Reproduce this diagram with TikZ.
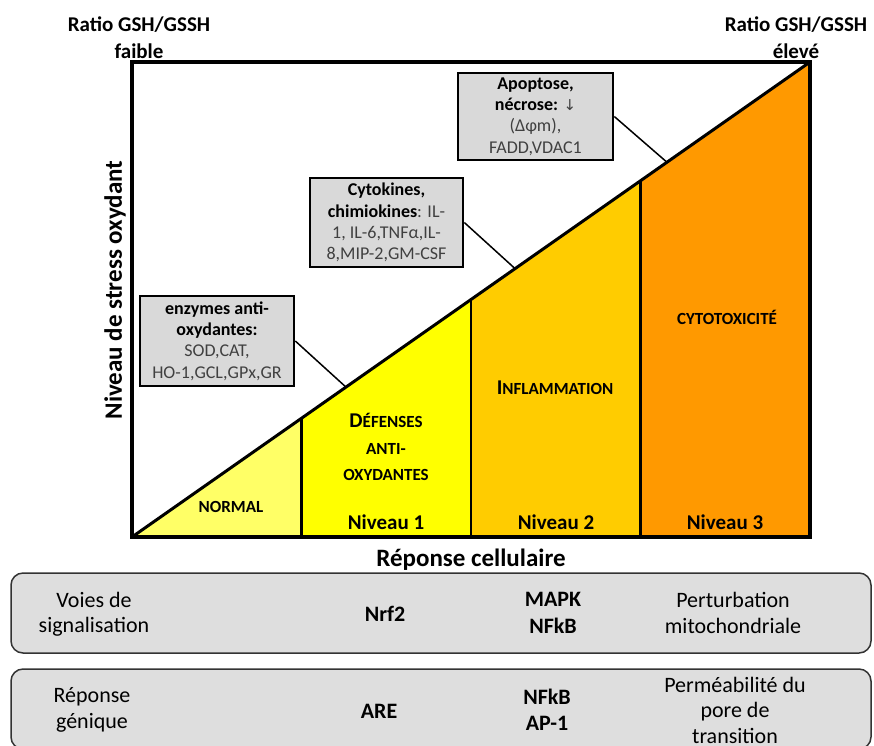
\documentclass[tikz,border=0pt]{standalone}
\usepackage{fontspec}
\setmainfont{Carlito}
\newfontfamily\djv{DejaVu Sans}
\usetikzlibrary{calc}
\definecolor{cNormal}{HTML}{FFFF66}
\definecolor{cDef}{HTML}{FFFF00}
\definecolor{cInf}{HTML}{FFCC00}
\definecolor{cCyt}{HTML}{FF9900}
\definecolor{annotgray}{HTML}{D9D9D9}
\definecolor{rowgray}{HTML}{DEDEDE}
\definecolor{txtgray}{HTML}{404040}
\newcommand{\sz}[2]{\fontsize{#1pt}{#2pt}\selectfont}
\tikzset{
  annot/.style={draw, line width=2.6, fill=annotgray, align=center, inner sep=1,
    font=\sz{18}{21.3}},
  link/.style={line width=1.5},
  divider/.style={line width=2.2},
  regionlab/.style={align=center, inner sep=0, font=\bfseries\sz{17}{26.5}},
  levellab/.style={inner sep=0, font=\bfseries\sz{21}{25}},
  axislab/.style={inner sep=0, font=\bfseries\sz{25}{30}},
  ratiolab/.style={align=center, inner sep=0, font=\bfseries\sz{21}{27}},
  rowbox/.style={draw=black!80, line width=1.5, fill=rowgray, rounded corners=12,
    minimum width=860, minimum height=80, inner sep=0},
  rowtxt/.style={align=center, inner sep=0, font=\sz{22}{25.5}},
  rowbold/.style={rowtxt, font=\bfseries\sz{22}{26.5}}
}
\begin{document}
\begin{tikzpicture}[x=1pt,y=-1pt]
\useasboundingbox (0,0) rectangle (874,745);
% frame corners
\coordinate (TL) at (132,62);
\coordinate (TR) at (810,62);
\coordinate (BL) at (132,537);
\coordinate (BR) at (810,537);
\coordinate (B1) at ($(BL)!0.25!(BR)$);
\coordinate (B2) at ($(BL)!0.5!(BR)$);
\coordinate (B3) at ($(BL)!0.75!(BR)$);
\coordinate (H1) at ($(BL)!0.25!(TR)$);
\coordinate (H2) at ($(BL)!0.5!(TR)$);
\coordinate (H3) at ($(BL)!0.75!(TR)$);
% regions
\fill[cNormal] (BL) -- (B1) -- (H1) -- cycle;
\fill[cDef] (B1) -- (B2) -- (H2) -- (H1) -- cycle;
\fill[cInf] (B2) -- (B3) -- (H3) -- (H2) -- cycle;
\fill[cCyt] (B3) -- (BR) -- (TR) -- (H3) -- cycle;
\draw[divider] (B1) -- (H1);
\draw[divider] (B2) -- (H2);
\draw[divider] (B3) -- (H3);
\draw[line width=3] (BL) -- (TR);
\draw[line width=3.2] (TL) rectangle (BR);
% region labels
\node[regionlab] (normal) at (231,507) {NORMAL};
\node[regionlab] (defense) at (386,447) {{\sz{21}{26.5}D}ÉFENSES\\ANTI-\\OXYDANTES};
\node[regionlab] (inflam) at (555,388) {{\sz{21}{26.5}I}NFLAMMATION};
\node[regionlab] (cyto) at (727,317) {CYTOTOXICITÉ};
\node[levellab] (niv1) at (386,522) {Niveau 1};
\node[levellab] (niv2) at (556,522) {Niveau 2};
\node[levellab] (niv3) at (725,522) {Niveau 3};
% annotation boxes
\node[annot, minimum width=154, minimum height=90] (enz) at (217,341)
  {\textbf{enzymes anti-}\\\textbf{oxydantes:}\\{\color{txtgray}SOD,CAT,}\\{\color{txtgray}HO-1,GCL,GPx,GR}};
\node[annot, minimum width=153, minimum height=89] (cyt) at (386.5,222.5)
  {\textbf{Cytokines,}\\\textbf{chimiokines}{\color{txtgray}: IL-}\\{\color{txtgray}1, IL-6,TNFα,IL-}\\{\color{txtgray}8,MIP-2,GM-CSF}};
\node[annot, minimum width=155, minimum height=87] (apo) at (535.5,116.5)
  {\textbf{Apoptose,}\\\textbf{nécrose:} {\color{txtgray}\djv\sz{15}{21.3}↓}\\{\color{txtgray}(Δφm),}\\{\color{txtgray}FADD,VDAC1}};
\coordinate (p1) at ($(BL)!0.3156!(TR)$);
\coordinate (p2) at ($(BL)!0.565!(TR)$);
\coordinate (p3) at ($(BL)!0.789!(TR)$);
\draw[link] (enz.east) -- (p1);
\draw[link] (cyt.east) -- (p2);
\draw[link] (apo.east) -- (p3);
% axis labels
\node[ratiolab] (rleft) at (139,38) {Ratio GSH/GSSH\\faible};
\node[ratiolab] (rright) at (796,38) {Ratio GSH/GSSH\\élevé};
\node[axislab, rotate=90] (ylab) at (115,290) {Niveau de stress oxydant};
\node[axislab] (xlab) at (471,560) {Réponse cellulaire};
% rows
\node[rowbox] (row1) at (441,613) {};
\node[rowbox] (row2) at (441,709) {};
\node[rowtxt] (voies) at (94,614) {Voies de\\signalisation};
\node[rowbold] (nrf) at (385,614) {Nrf2};
\node[rowbold] (mapk) at (553,613) {MAPK\\NFkB};
\node[rowtxt] (pert) at (733,613) {Perturbation\\mitochondriale};
\node[rowtxt] (repg) at (92,710) {Réponse\\génique};
\node[rowbold] (are) at (379,711) {ARE};
\node[rowbold] (nfkb) at (547,710) {NFkB\\AP-1};
\node[rowtxt] (perm) at (735,710) {Perméabilité du\\pore de\\transition};
\end{tikzpicture}
\end{document}
